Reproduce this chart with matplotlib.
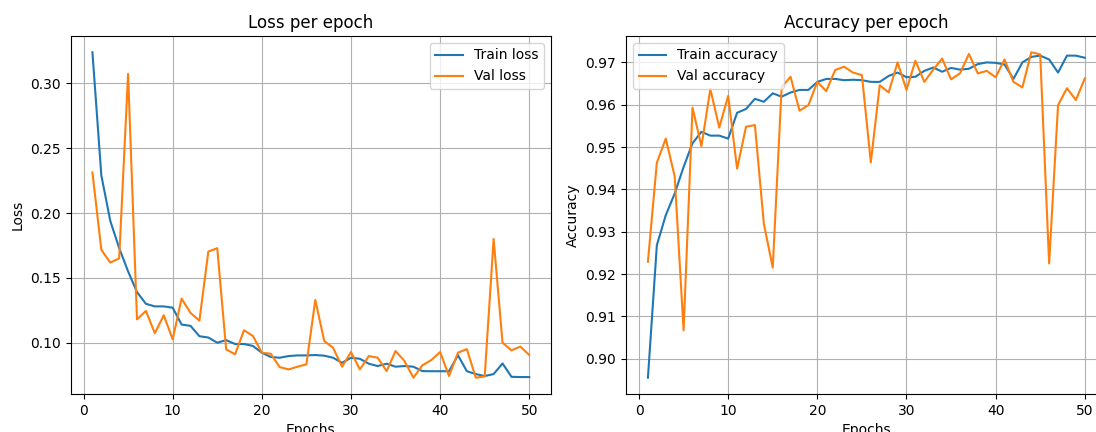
import matplotlib
matplotlib.use('Agg')
import matplotlib.pyplot as plt

# Values
epochs = list(range(1, 51))

train_loss = [0.324, 0.229, 0.194, 0.173, 0.155, 0.139, 0.130, 0.128, 0.128, 0.127,
              0.114, 0.113, 0.105, 0.104, 0.100, 0.102, 0.099, 0.099, 0.0975, 0.0923,
              0.089, 0.0884, 0.0897, 0.0902, 0.0902, 0.0905, 0.090, 0.0884, 0.0845, 0.0884,
              0.0876, 0.0838, 0.082, 0.0838, 0.0815, 0.082, 0.0815, 0.0781, 0.078, 0.078,
              0.078, 0.0903, 0.078, 0.0758, 0.0743, 0.0758, 0.084, 0.0737, 0.0735, 0.0735]

val_loss = [0.2313, 0.1716, 0.1618, 0.165, 0.3073, 0.118, 0.1245, 0.1073, 0.1212, 0.1026,
            0.134, 0.123, 0.117, 0.1703, 0.1729, 0.0949, 0.091, 0.1096, 0.1052, 0.0923,
            0.0915, 0.0812, 0.0794, 0.0815, 0.0833, 0.133, 0.1013, 0.096, 0.0815, 0.0928,
            0.0794, 0.0897, 0.0884, 0.0781, 0.0936, 0.0859, 0.073, 0.0825, 0.0866, 0.0928,
            0.0743, 0.0923, 0.095, 0.073, 0.074, 0.180, 0.100, 0.0941, 0.097, 0.0905]

train_acc = [0.8955, 0.9268, 0.9339, 0.9390, 0.9453, 0.9509, 0.9536, 0.9527, 0.9527, 0.9520,
             0.9581, 0.9590, 0.9614, 0.9607, 0.9627, 0.9619, 0.9629, 0.9635, 0.9635, 0.9654,
             0.9661, 0.9661, 0.9658, 0.9659, 0.9658, 0.9654, 0.9654, 0.9668, 0.9676, 0.9665,
             0.9666, 0.9680, 0.9688, 0.9678, 0.9687, 0.9683, 0.9685, 0.9696, 0.9700, 0.9699,
             0.9695, 0.9661, 0.9700, 0.9713, 0.9716, 0.9707, 0.9676, 0.9716, 0.9716, 0.9711]

val_acc = [0.9229, 0.9463, 0.9520, 0.9431, 0.9067, 0.9593, 0.9502, 0.9637, 0.9546, 0.9621,
           0.9449, 0.9548, 0.9552, 0.9319, 0.9215, 0.9642, 0.9666, 0.9586, 0.9599, 0.9654,
           0.9632, 0.9682, 0.9690, 0.9676, 0.9670, 0.9464, 0.9646, 0.9629, 0.9700, 0.9635,
           0.9704, 0.9654, 0.9683, 0.9709, 0.9660, 0.9674, 0.9720, 0.9674, 0.9680, 0.9665,
           0.9707, 0.9654, 0.9641, 0.9724, 0.9719, 0.9225, 0.9599, 0.9639, 0.9611, 0.9662]

plt.figure(figsize=(10.96, 4.32), dpi=100)

# Loss
plt.subplot(1, 2, 1)
plt.plot(epochs, train_loss, label='Train loss')
plt.plot(epochs, val_loss, label='Val loss')
plt.title('Loss per epoch')
plt.xlabel('Epochs')
plt.ylabel('Loss')
plt.legend(loc='upper right')
plt.grid(True)

# Accuracy
plt.subplot(1, 2, 2)
plt.plot(epochs, train_acc, label='Train accuracy')
plt.plot(epochs, val_acc, label='Val accuracy')
plt.title('Accuracy per epoch')
plt.xlabel('Epochs')
plt.ylabel('Accuracy')
plt.legend(loc='upper left')
plt.grid(True)

plt.subplots_adjust(left=0.0644, right=1.0097, bottom=0.088, top=0.9167, wspace=0.156)
plt.savefig('out.png', dpi=100)
